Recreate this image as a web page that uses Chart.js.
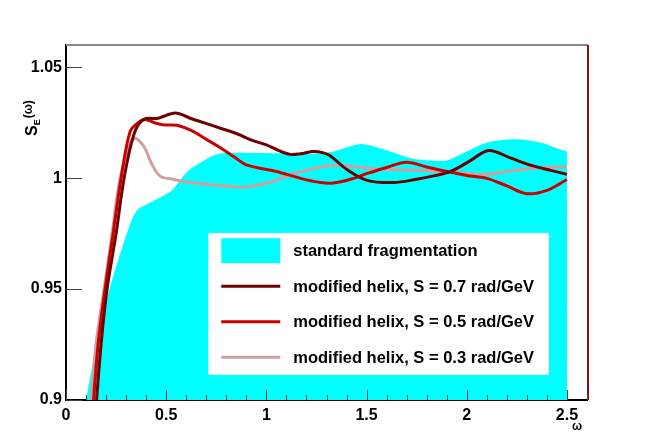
<!DOCTYPE html>
<html><head><meta charset="utf-8">
<script src="https://cdn.jsdelivr.net/npm/chart.js@4"></script>
<style>html,body{margin:0;padding:0;background:#fff;}#wrap{width:654px;height:444px;position:relative;}</style>
</head><body><div id="wrap"><canvas id="c"></canvas></div>
<script>
// ---- data ----
const seriesLabels = ["standard fragmentation","modified helix, S = 0.7 rad/GeV","modified helix, S = 0.5 rad/GeV","modified helix, S = 0.3 rad/GeV"];
const xTicks = [0,0.5,1,1.5,2,2.5];
const yTicks = [0.9,0.95,1,1.05];

const stdX = [0.10,0.13,0.153,0.19,0.22,0.26,0.30,0.35,0.42,0.485,0.535,0.60,0.67,0.75,0.835,0.95,1.05,1.15,1.23,1.335,1.42,1.485,1.585,1.72,1.82,1.90,2.0,2.1,2.235,2.37,2.45,2.5];
const stdY = [0.900,0.915,0.927,0.940,0.951,0.963,0.974,0.985,0.989,0.992,0.995,1.0024,1.007,1.0107,1.0114,1.0113,1.0112,1.011,1.011,1.012,1.0144,1.0153,1.013,1.009,1.008,1.008,1.012,1.016,1.0175,1.016,1.0135,1.012];

const s07X = [0.14,0.175,0.205,0.25,0.29,0.34,0.387,0.46,0.545,0.62,0.687,0.77,0.853,0.93,1.0,1.06,1.12,1.17,1.235,1.285,1.32,1.40,1.503,1.635,1.75,1.835,1.92,2.02,2.11,2.22,2.335,2.42,2.5];
const s07Y = [0.885,0.925,0.950,0.975,1.000,1.020,1.0264,1.027,1.0294,1.027,1.025,1.0225,1.020,1.017,1.015,1.0125,1.0107,1.011,1.012,1.0114,1.010,1.004,0.999,0.998,0.9995,1.001,1.003,1.008,1.0125,1.009,1.0054,1.0035,1.0017];

const s05X = [0.125,0.16,0.195,0.235,0.275,0.32,0.36,0.395,0.44,0.487,0.553,0.637,0.70,0.77,0.84,0.90,1.05,1.17,1.27,1.335,1.42,1.50,1.60,1.70,1.80,1.90,2.0,2.10,2.20,2.30,2.40,2.5];
const s05Y = [0.885,0.925,0.950,0.975,1.000,1.021,1.025,1.0264,1.025,1.024,1.0238,1.021,1.0175,1.0137,1.0095,1.006,1.003,0.9999,0.998,0.9978,0.9995,1.002,1.0048,1.0072,1.005,1.003,1.0012,0.9999,0.9965,0.993,0.9945,0.9994];

const s03X = [0.115,0.15,0.19,0.23,0.27,0.32,0.345,0.39,0.43,0.47,0.537,0.62,0.72,0.80,0.90,1.035,1.135,1.27,1.335,1.45,1.585,1.75,1.90,2.085,2.20,2.335,2.42,2.5];
const s03Y = [0.885,0.925,0.950,0.975,1.000,1.0155,1.018,1.014,1.006,1.0009,0.9994,0.998,0.997,0.9965,0.996,0.9986,1.002,1.005,1.0058,1.005,1.004,1.0035,1.003,1.0016,1.003,1.0046,1.005,1.005];

const colStd = "#00ffff", col07 = "#6e0000", col05 = "#cc0000", col03 = "#d0a0a0";

const pts = (xs, ys) => xs.map((x,i)=>({x:x,y:ys[i]}));

const innerTicks = {
  id:'innerTicks',
  afterDatasetsDraw(chart){
    const {ctx, chartArea:a, scales:{x,y}} = chart;
    ctx.save();
    ctx.lineWidth = 2;
    ctx.strokeStyle = '#888';
    ctx.beginPath(); ctx.moveTo(a.left, a.top); ctx.lineTo(a.right+1, a.top); ctx.stroke();
    ctx.strokeStyle = '#8a1010';
    ctx.beginPath(); ctx.moveTo(a.right+1, a.top); ctx.lineTo(a.right+1, a.bottom); ctx.stroke();
    ctx.strokeStyle = '#444';
    ctx.lineWidth = 1;
    for(let k=0;k<=26;k++){
      const v = k/10;
      const px = Math.round(x.getPixelForValue(v))+0.5;
      const len = (k%5===0)?10:5;
      ctx.beginPath(); ctx.moveTo(px, a.bottom); ctx.lineTo(px, a.bottom-len); ctx.stroke();
    }
    yTicks.forEach(v=>{
      const py = Math.round(y.getPixelForValue(v))+0.5;
      ctx.beginPath(); ctx.moveTo(a.left, py); ctx.lineTo(a.left+16, py); ctx.stroke();
    });
    ctx.restore();
  },
  afterDraw(chart){
    const {ctx, chartArea:a, scales:{x,y}} = chart;
    ctx.save();
    // legend
    const lx = x.getPixelForValue(0.71), rx = x.getPixelForValue(2.41);
    const ty = y.getPixelForValue(0.9753), by = y.getPixelForValue(0.9113);
    ctx.fillStyle = '#fff';
    ctx.fillRect(lx, ty, rx-lx, by-ty);
    const rowH = (by-ty)/4;
    const sx0 = lx+13, sx1 = lx+72, tx = lx+85;
    ctx.font = 'bold 16.5px "Liberation Sans", Arial, sans-serif';
    ctx.textBaseline = 'middle';
    const cols = [colStd,col07,col05,col03];
    seriesLabels.forEach((lab,i)=>{
      const cy = ty + rowH*(i+0.5);
      if(i===0){ ctx.fillStyle = colStd; ctx.fillRect(sx0, cy-12.5, sx1-sx0, 25); }
      else { ctx.strokeStyle = cols[i]; ctx.lineWidth = 3; ctx.beginPath(); ctx.moveTo(sx0, cy); ctx.lineTo(sx1, cy); ctx.stroke(); }
      ctx.fillStyle = '#000';
      ctx.fillText(lab, tx, cy+1);
    });
    // axis titles
    ctx.fillStyle = '#000';
    ctx.textBaseline = 'alphabetic';
    ctx.font = 'bold 12px "Liberation Sans", Arial, sans-serif';
    ctx.textAlign = 'center';
    ctx.fillText('ω', a.right-10, a.bottom+30);
    ctx.translate(37, 136);
    ctx.rotate(-Math.PI/2);
    ctx.textAlign = 'left';
    ctx.font = 'bold 16px "Liberation Sans", Arial, sans-serif';
    ctx.fillText('S', 0, 0);
    let w = ctx.measureText('S').width;
    ctx.font = 'bold 9px "Liberation Sans", Arial, sans-serif';
    ctx.fillText('E', w, 3);
    w += ctx.measureText('E').width + 1;
    ctx.font = 'bold 12px "Liberation Sans", Arial, sans-serif';
    ctx.fillText('(ω)', w, -5);
    ctx.restore();
  }
};

const font = {family:'"Liberation Sans", Arial, sans-serif', size:16, weight:'bold'};

new Chart(document.getElementById('c'), {
  type:'scatter',
  data:{datasets:[
    {label:seriesLabels[1], data:pts(s07X,s07Y), showLine:true, borderColor:col07, borderWidth:3, pointRadius:0, tension:0.35, fill:false},
    {label:seriesLabels[2], data:pts(s05X,s05Y), showLine:true, borderColor:col05, borderWidth:3, pointRadius:0, tension:0.35, fill:false},
    {label:seriesLabels[3], data:pts(s03X,s03Y), showLine:true, borderColor:col03, borderWidth:3, pointRadius:0, tension:0.35, fill:false},
    {label:seriesLabels[0], data:pts(stdX,stdY), showLine:true, borderColor:colStd, backgroundColor:colStd, borderWidth:0, pointRadius:0, tension:0.3, fill:'start'}
  ]},
  options:{
    responsive:true, maintainAspectRatio:false, animation:false,
    layout:{padding:{top:45,right:67,left:0,bottom:0}},
    plugins:{legend:{display:false}, tooltip:{enabled:false}},
    scales:{
      x:{type:'linear', min:0, max:2.6,
        afterBuildTicks:s=>{s.ticks = xTicks.map(v=>({value:v}));},
        afterFit:s=>{s.height = 44;},
        grid:{display:false, drawTicks:false},
        border:{display:true, color:'#000', width:2},
        ticks:{font:font, color:'#000', padding:6, maxRotation:0, autoSkip:false, callback:v=>String(v)}},
      y:{type:'linear', min:0.9, max:1.06,
        afterBuildTicks:s=>{s.ticks = yTicks.map(v=>({value:v}));},
        afterFit:s=>{s.width = 66;},
        grid:{display:false, drawTicks:false},
        border:{display:true, color:'#000', width:2},
        ticks:{font:font, color:'#000', padding:4, autoSkip:false, callback:v=>String(v)}}
    }
  },
  plugins:[innerTicks]
});
</script></body></html>
